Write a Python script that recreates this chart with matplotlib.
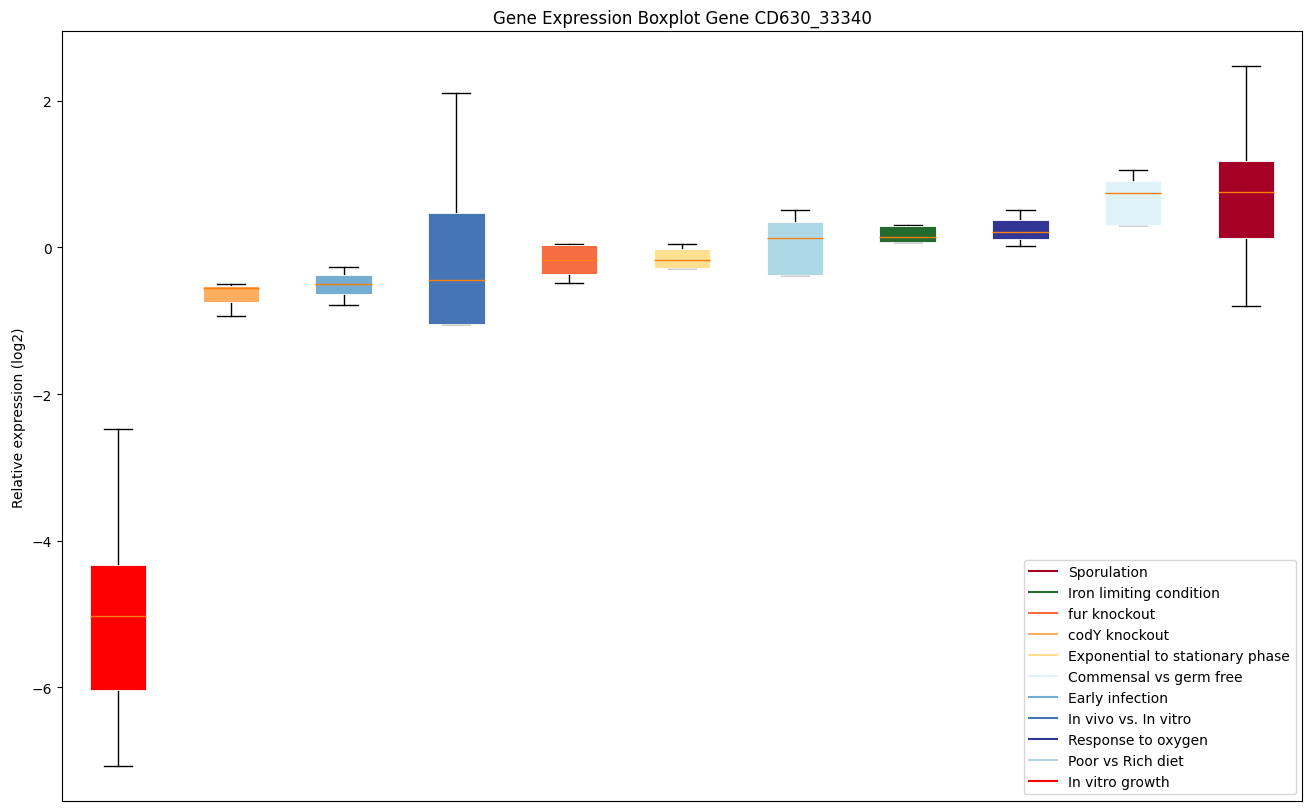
import matplotlib
matplotlib.use("Agg")
import matplotlib.pyplot as plt
from matplotlib.lines import Line2D

# conditions in plotting order (left to right)
conditions = ["In vitro growth", "codY knockout", "Early infection", "In vivo vs. In vitro",
              "fur knockout", "Exponential to stationary phase", "Poor vs Rich diet",
              "Iron limiting condition", "Response to oxygen", "Commensal vs germ free",
              "Sporulation"]
colors = ["#ff0000", "#fdae61", "#74add1", "#4575b4", "#f46d43", "#fee090",
          "#add8e6", "#236b2e", "#313695", "#e0f3f8", "#a50026"]

# box stats (log2)
whislo = [-7.08, -0.93, -0.79, -1.04, -0.49, -0.28, -0.38, 0.07, 0.02, 0.30, -0.80]
q1 = [-6.04, -0.74, -0.63, -1.04, -0.36, -0.28, -0.38, 0.08, 0.11, 0.31, 0.13]
med = [-5.03, -0.56, -0.50, -0.45, -0.17, -0.17, 0.13, 0.14, 0.21, 0.74, 0.76]
q3 = [-4.34, -0.53, -0.37, 0.47, 0.04, -0.02, 0.35, 0.29, 0.37, 0.91, 1.18]
whishi = [-2.48, -0.50, -0.27, 2.11, 0.05, 0.05, 0.51, 0.30, 0.51, 1.06, 2.47]

# legend order as in the original
legend_order = ["Sporulation", "Iron limiting condition", "fur knockout", "codY knockout",
                "Exponential to stationary phase", "Commensal vs germ free", "Early infection",
                "In vivo vs. In vitro", "Response to oxygen", "Poor vs Rich diet",
                "In vitro growth"]

stats = []
for i in range(len(conditions)):
    stats.append({"label": conditions[i], "whislo": whislo[i], "q1": q1[i], "med": med[i],
                  "q3": q3[i], "whishi": whishi[i], "fliers": []})

fig, ax = plt.subplots(figsize=(13.09, 8.12), dpi=100)
bp = ax.bxp(stats, patch_artist=True, showfliers=False)
for box, c in zip(bp["boxes"], colors):
    box.set_facecolor(c)
    box.set_edgecolor("white")
    box.set_linewidth(0.6)
    box.set_zorder(2.5)
for m in bp["medians"]:
    m.set_zorder(3)

ax.set_xticks([])
ax.set_ylabel("Relative expression (log2)")
ax.set_title("Gene Expression Boxplot Gene CD630_33340")

handles = [Line2D([0], [0], color=colors[conditions.index(n)]) for n in legend_order]
ax.legend(handles, legend_order, loc="lower right")

fig.subplots_adjust(left=0.047, right=0.995, top=0.96, bottom=0.012)
fig.savefig("out.png", dpi=100)
